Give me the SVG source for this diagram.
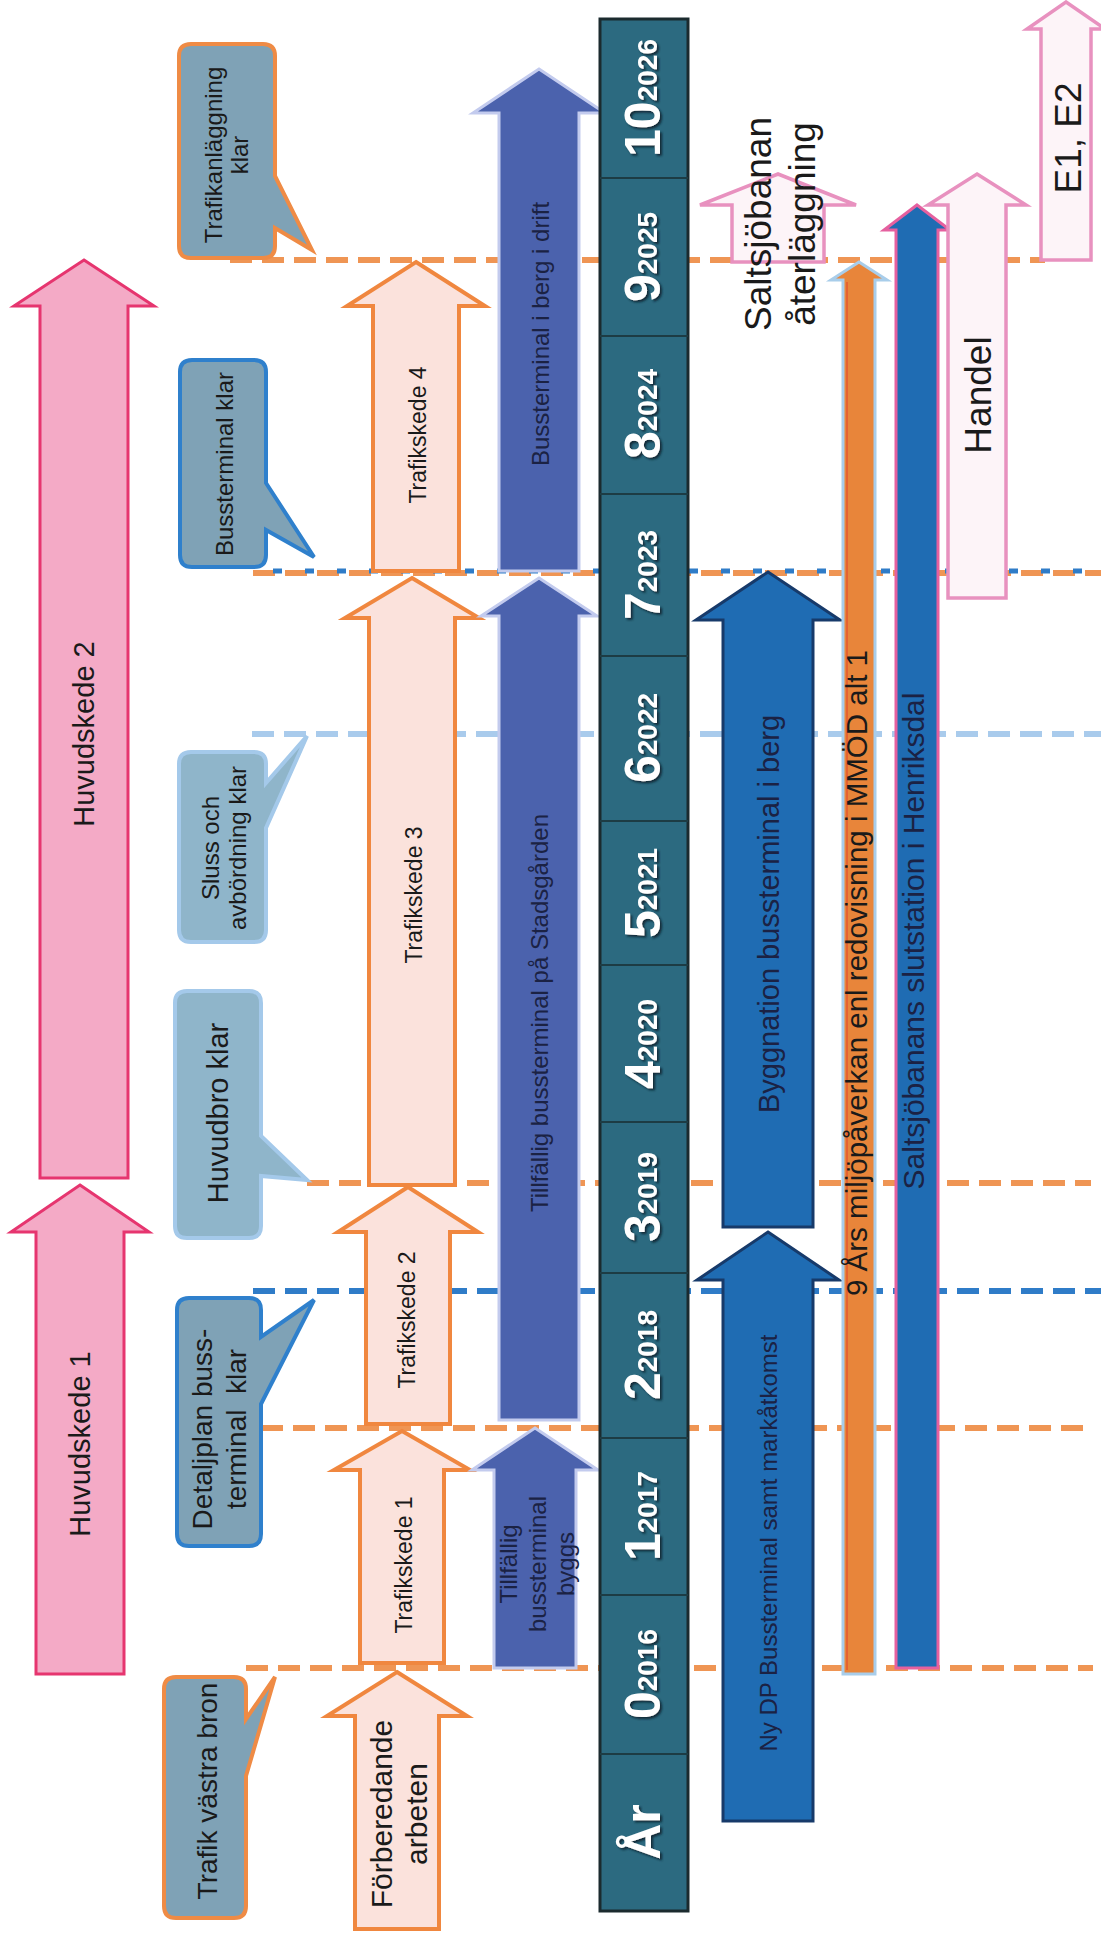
<svg xmlns="http://www.w3.org/2000/svg" width="1101" height="1935" viewBox="0 0 1101 1935">
<defs>
<filter id="sh" x="-20%" y="-20%" width="140%" height="140%"><feDropShadow dx="2" dy="2" stdDeviation="1" flood-color="#0b2430" flood-opacity="0.9"/></filter>
</defs>
<style>
.t{font-family:"Liberation Sans",Arial,sans-serif;fill:#1a1a1a}
.tn{font-family:"Liberation Sans",Arial,sans-serif;fill:#1b2244}
.yr{font-family:"Liberation Sans",Arial,sans-serif;font-weight:bold;fill:#ffffff}
.pink{fill:#f4aac6;stroke:#e6356f;stroke-width:3}
.traf{fill:#fbe2dc;stroke:#f0873f;stroke-width:4}
.slate{fill:#4b62ad;stroke:#c3cbee;stroke-width:3}
.dblue{fill:#1f6cb3;stroke:#173a6a;stroke-width:3}
.orng{fill:#e8853a;stroke:#a8cdea;stroke-width:3}
.sblue{fill:#1f6cb3;stroke:#e5609f;stroke-width:3}
.pout{fill:#fdf4f8;stroke:#e891bf;stroke-width:3.5}
.coo{fill:#7fa2b6;stroke:#ef8b45;stroke-width:4}
.cob{fill:#7fa2b6;stroke:#2f80cc;stroke-width:4}
.col{fill:#8fb5ca;stroke:#a4c9ea;stroke-width:4}
.dash{fill:none;stroke-width:6;stroke-dasharray:22 10}
.dor{stroke:#ef9554}
.dbl{stroke:#2f7cc8}
.dlb{stroke:#a9cbec}
</style>
<g id="connectors">
<line class="dash dor" x1="230" y1="260" x2="1045" y2="260"/>
<line class="dash dor" x1="253" y1="573" x2="1101" y2="573"/>
<line x1="253" y1="571" x2="1101" y2="571" style="fill:none;stroke:#2f7cc8;stroke-width:5;stroke-dasharray:9 23;stroke-dashoffset:-20"/>
<line class="dash dlb" x1="252" y1="734" x2="1101" y2="734"/>
<line class="dash dor" x1="307" y1="1183" x2="1091" y2="1183"/>
<line class="dash dbl" x1="253" y1="1291" x2="1101" y2="1291"/>
<line class="dash dor" x1="261" y1="1428" x2="1093" y2="1428"/>
<line class="dash dor" x1="246" y1="1668" x2="1093" y2="1668"/>
</g>
<g id="huvudskede2"><polygon class="pink" points="84,260 154,306 128,306 128,1178 40,1178 40,306 14,306"/><text class="t" font-size="29" text-anchor="middle" transform="translate(94,734) rotate(-90)">Huvudskede 2</text></g>
<g id="huvudskede1"><polygon class="pink" points="80,1185 149,1232 124,1232 124,1674 36,1674 36,1232 11,1232"/><text class="t" font-size="29" text-anchor="middle" transform="translate(90,1444) rotate(-90)">Huvudskede 1</text></g>
<g id="callout-trafikanlaggning"><path class="coo" d="M191,44 H263 Q275,44 275,56 V176 L312,250 L275,228 V246 Q275,258 263,258 H191 Q179,258 179,246 V56 Q179,44 191,44 Z"/><text class="t" font-size="24" text-anchor="middle" transform="translate(227,155) rotate(-90)"><tspan x="0" y="-4.6">Trafikanläggning</tspan><tspan x="0" y="21.4">klar</tspan></text></g>
<g id="callout-bussterminal-klar"><path class="cob" d="M192,360 H254 Q266,360 266,372 V483 L314,557 L266,530 V555 Q266,567 254,567 H192 Q180,567 180,555 V372 Q180,360 192,360 Z"/><text class="t" font-size="24" text-anchor="middle" transform="translate(233,464) rotate(-90)">Bussterminal klar</text></g>
<g id="callout-sluss"><path class="col" d="M191,752 H254 Q266,752 266,764 V783 L307,736 L266,828 V930 Q266,942 254,942 H191 Q179,942 179,930 V764 Q179,752 191,752 Z"/><text class="t" font-size="24" text-anchor="middle" transform="translate(224,848) rotate(-90)"><tspan x="0" y="-5.1">Sluss och</tspan><tspan x="0" y="21.9">avbördning klar</tspan></text></g>
<g id="callout-huvudbro"><path class="col" d="M187,991 H249 Q261,991 261,1003 V1136 L307,1180 L261,1176 V1226 Q261,1238 249,1238 H187 Q175,1238 175,1226 V1003 Q175,991 187,991 Z"/><text class="t" font-size="29" text-anchor="middle" transform="translate(228,1113) rotate(-90)">Huvudbro klar</text></g>
<g id="callout-detaljplan"><path class="cob" d="M189,1298 H249 Q261,1298 261,1310 V1337 L314,1300 L261,1404 V1534 Q261,1546 249,1546 H189 Q177,1546 177,1534 V1310 Q177,1298 189,1298 Z"/><text class="t" font-size="28" text-anchor="middle" xml:space="preserve" transform="translate(219,1429) rotate(-90)"><tspan x="0" y="-7.2">Detaljplan buss-</tspan><tspan x="0" y="26.8">terminal  klar</tspan></text></g>
<g id="callout-trafik-vastra"><path class="coo" d="M176,1677 H234 Q246,1677 246,1689 V1719 L275,1677 L246,1776 V1906 Q246,1918 234,1918 H176 Q164,1918 164,1906 V1689 Q164,1677 176,1677 Z"/><text class="t" font-size="28" text-anchor="middle" transform="translate(217,1791) rotate(-90)">Trafik västra bron</text></g>
<g id="trafikskede4"><polygon class="traf" points="416,262 485,306 459,306 459,571 373,571 373,306 347,306"/><text class="t" font-size="23" text-anchor="middle" transform="translate(426,435) rotate(-90)">Trafikskede 4</text></g>
<g id="trafikskede3"><polygon class="traf" points="412,578 479,618 455,618 455,1185 369,1185 369,618 345,618"/><text class="t" font-size="23" text-anchor="middle" transform="translate(422,895) rotate(-90)">Trafikskede 3</text></g>
<g id="trafikskede2"><polygon class="traf" points="408,1187 478,1232 450,1232 450,1424 366,1424 366,1232 338,1232"/><text class="t" font-size="23" text-anchor="middle" transform="translate(415,1320) rotate(-90)">Trafikskede 2</text></g>
<g id="trafikskede1"><polygon class="traf" points="402,1431 470,1470 444,1470 444,1663 360,1663 360,1470 334,1470"/><text class="t" font-size="23" text-anchor="middle" transform="translate(412,1565) rotate(-90)">Trafikskede 1</text></g>
<g id="forberedande"><polygon class="traf" points="397,1672 467,1716 439,1716 439,1929 355,1929 355,1716 327,1716"/><text class="t" font-size="30" text-anchor="middle" transform="translate(399,1814) rotate(-90)"><tspan x="0" y="-7">Förberedande</tspan><tspan x="0" y="28">arbeten</tspan></text></g>
<g id="bussterminal-drift"><polygon class="slate" points="539,69 605,113 579,113 579,571 499,571 499,113 473,113"/><text class="tn" font-size="24" text-anchor="middle" transform="translate(549,334) rotate(-90)">Bussterminal i berg i drift</text></g>
<g id="tillfallig-stadsgarden"><polygon class="slate" points="539,578 597,616 579,616 579,1420 499,1420 499,616 481,616"/><text class="tn" font-size="24" text-anchor="middle" transform="translate(548,1013) rotate(-90)">Tillfällig bussterminal på Stadsgården</text></g>
<g id="tillfallig-byggs"><polygon class="slate" points="535,1428 598,1470 576,1470 576,1668 494,1668 494,1470 472,1470"/><text class="tn" font-size="24" text-anchor="middle" transform="translate(537,1564) rotate(-90)"><tspan x="0" y="-20">Tillfällig</tspan><tspan x="0" y="8.5">bussterminal</tspan><tspan x="0" y="37">byggs</tspan></text></g>
<g id="year-bar">
<rect x="600" y="19" width="88" height="1892" fill="#2c6a80" stroke="#1b2a2e" stroke-width="3"/>
<g stroke="#1d3c44" stroke-width="2">
<line x1="600" y1="178" x2="688" y2="178"/><line x1="600" y1="336" x2="688" y2="336"/><line x1="600" y1="494" x2="688" y2="494"/><line x1="600" y1="656" x2="688" y2="656"/><line x1="600" y1="821" x2="688" y2="821"/><line x1="600" y1="965" x2="688" y2="965"/><line x1="600" y1="1122" x2="688" y2="1122"/><line x1="600" y1="1273" x2="688" y2="1273"/><line x1="600" y1="1438" x2="688" y2="1438"/><line x1="600" y1="1595" x2="688" y2="1595"/><line x1="600" y1="1754" x2="688" y2="1754"/>
</g>
<g filter="url(#sh)">
<text class="yr" text-anchor="middle" transform="translate(660,98) rotate(-90)"><tspan font-size="50">10</tspan><tspan font-size="28" dy="-3">2026</tspan></text>
<text class="yr" text-anchor="middle" transform="translate(660,257) rotate(-90)"><tspan font-size="50">9</tspan><tspan font-size="28" dy="-3">2025</tspan></text>
<text class="yr" text-anchor="middle" transform="translate(660,414) rotate(-90)"><tspan font-size="50">8</tspan><tspan font-size="28" dy="-3">2024</tspan></text>
<text class="yr" text-anchor="middle" transform="translate(660,575) rotate(-90)"><tspan font-size="50">7</tspan><tspan font-size="28" dy="-3">2023</tspan></text>
<text class="yr" text-anchor="middle" transform="translate(660,738) rotate(-90)"><tspan font-size="50">6</tspan><tspan font-size="28" dy="-3">2022</tspan></text>
<text class="yr" text-anchor="middle" transform="translate(660,893) rotate(-90)"><tspan font-size="50">5</tspan><tspan font-size="28" dy="-3">2021</tspan></text>
<text class="yr" text-anchor="middle" transform="translate(660,1044) rotate(-90)"><tspan font-size="50">4</tspan><tspan font-size="28" dy="-3">2020</tspan></text>
<text class="yr" text-anchor="middle" transform="translate(660,1197) rotate(-90)"><tspan font-size="50">3</tspan><tspan font-size="28" dy="-3">2019</tspan></text>
<text class="yr" text-anchor="middle" transform="translate(660,1355) rotate(-90)"><tspan font-size="50">2</tspan><tspan font-size="28" dy="-3">2018</tspan></text>
<text class="yr" text-anchor="middle" transform="translate(660,1516) rotate(-90)"><tspan font-size="50">1</tspan><tspan font-size="28" dy="-3">2017</tspan></text>
<text class="yr" text-anchor="middle" transform="translate(660,1674) rotate(-90)"><tspan font-size="50">0</tspan><tspan font-size="28" dy="-3">2016</tspan></text>
<text class="yr" text-anchor="middle" font-size="50" transform="translate(660,1832) rotate(-90)">År</text>
</g>
</g>
<g id="byggnation"><polygon class="dblue" points="768,572 840,620 813,620 813,1227 723,1227 723,620 696,620"/><text class="tn" font-size="29" text-anchor="middle" transform="translate(779,914) rotate(-90)">Byggnation bussterminal i berg</text></g>
<g id="ny-dp"><polygon class="dblue" points="768,1232 839,1280 813,1280 813,1821 723,1821 723,1280 697,1280"/><text class="tn" font-size="24" text-anchor="middle" transform="translate(777,1543) rotate(-90)">Ny DP Bussterminal samt markåtkomst</text></g>
<g id="miljopaverkan"><polygon class="orng" points="859,262 887,280 875,280 875,1674 843,1674 843,280 831,280"/><line x1="847" y1="282" x2="847" y2="1670" stroke="#e0402a" stroke-width="1"/><text class="t" font-size="29.5" text-anchor="middle" transform="translate(867,973) rotate(-90)">9 Års miljöpåverkan enl redovisning i MMÖD alt 1</text></g>
<g id="saltsjobanans-slutstation"><polygon class="sblue" points="917,205 950,230 938,230 938,1668 896,1668 896,230 884,230"/><text class="tn" font-size="30" text-anchor="middle" transform="translate(923.5,941) rotate(-90)">Saltsjöbanans slutstation i Henriksdal</text></g>
<g id="saltsjobanan-aterlaggning"><polygon class="pout" points="778,174 856,205 824,205 824,262 732,262 732,205 700,205"/><text class="t" font-size="37" text-anchor="middle" transform="translate(780,224) rotate(-90)"><tspan x="0" y="-9">Saltsjöbanan</tspan><tspan x="0" y="35">återläggning</tspan></text></g>
<g id="handel"><polygon class="pout" points="977,174 1026,205 1006,205 1006,598 948,598 948,205 928,205"/><text class="t" font-size="37" text-anchor="middle" transform="translate(990.5,395) rotate(-90)">Handel</text></g>
<g id="e1e2"><polygon class="pout" points="1066,2 1105,29 1091,29 1091,260 1041,260 1041,29 1027,29"/><text class="t" font-size="37" text-anchor="middle" transform="translate(1080.5,138) rotate(-90)">E1, E2</text></g>
</svg>
